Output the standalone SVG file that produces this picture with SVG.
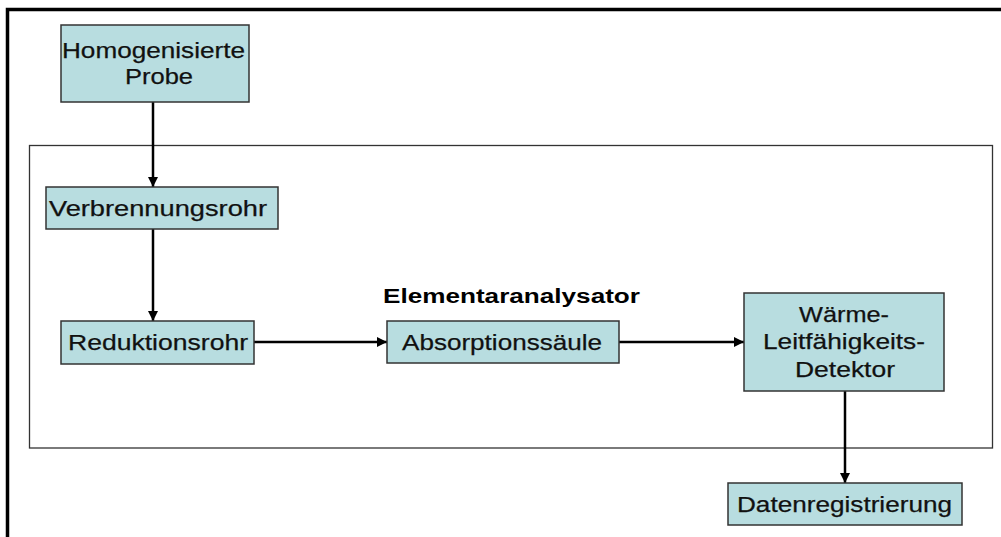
<svg xmlns="http://www.w3.org/2000/svg" width="1001" height="537" viewBox="0 0 1001 537">
<style>
.box{fill:#b8dde0;stroke:#333;stroke-width:1.5}
.t{font-family:"Liberation Sans",Arial,sans-serif;font-size:22px;fill:#111;stroke:#111;stroke-width:0.25;text-anchor:middle}
.b{font-family:"Liberation Sans",Arial,sans-serif;font-size:20px;font-weight:bold;fill:#000;text-anchor:middle}
.c{stroke:#000;stroke-width:2.5;fill:none;marker-end:url(#ah)}
</style>
<defs>
<marker id="ah" viewBox="0 0 10 10" refX="10" refY="5" markerWidth="4" markerHeight="4" orient="auto" markerUnits="strokeWidth">
<path d="M0,0 L10,5 L0,10 z" fill="#000"/>
</marker>
</defs>
<rect x="0" y="0" width="1001" height="537" fill="#fff"/>
<g id="frame">
<path d="M7.5,537 V9.5 H1001" fill="none" stroke="#000" stroke-width="3.5"/>
<rect x="29.5" y="145.5" width="963" height="302.5" fill="none" stroke="#333" stroke-width="1.3"/>
<text class="b" x="511.5" y="303" textLength="257" lengthAdjust="spacingAndGlyphs">Elementaranalysator</text>
</g>
<g id="connectors">
<line class="c" x1="153" y1="102" x2="153" y2="187"/>
<line class="c" x1="153" y1="229" x2="153" y2="321"/>
<line class="c" x1="254" y1="342" x2="387" y2="342"/>
<line class="c" x1="619" y1="342" x2="744" y2="342"/>
<line class="c" x1="845" y1="391" x2="845" y2="483"/>
</g>
<g id="n_probe">
<rect class="box" x="61" y="25" width="188" height="77"/>
<text class="t" x="153.5" y="58" textLength="183" lengthAdjust="spacingAndGlyphs">Homogenisierte</text>
<text class="t" x="159" y="84" textLength="68" lengthAdjust="spacingAndGlyphs">Probe</text>
</g>
<g id="n_verbrennung">
<rect class="box" x="46" y="187" width="232" height="42"/>
<text class="t" x="158" y="216" textLength="218" lengthAdjust="spacingAndGlyphs">Verbrennungsrohr</text>
</g>
<g id="n_reduktion">
<rect class="box" x="61" y="321" width="193" height="43"/>
<text class="t" x="158" y="350" textLength="180" lengthAdjust="spacingAndGlyphs">Reduktionsrohr</text>
</g>
<g id="n_absorption">
<rect class="box" x="387" y="321" width="232" height="42"/>
<text class="t" x="502" y="350" textLength="200" lengthAdjust="spacingAndGlyphs">Absorptionssäule</text>
</g>
<g id="n_detektor">
<rect class="box" x="744" y="293" width="200" height="98"/>
<text class="t" x="844" y="322" textLength="90" lengthAdjust="spacingAndGlyphs">Wärme-</text>
<text class="t" x="844" y="349" textLength="162" lengthAdjust="spacingAndGlyphs">Leitfähigkeits-</text>
<text class="t" x="845" y="377" textLength="100" lengthAdjust="spacingAndGlyphs">Detektor</text>
</g>
<g id="n_daten">
<rect class="box" x="728" y="483" width="234" height="42"/>
<text class="t" x="844.5" y="512" textLength="215" lengthAdjust="spacingAndGlyphs">Datenregistrierung</text>
</g>
</svg>
